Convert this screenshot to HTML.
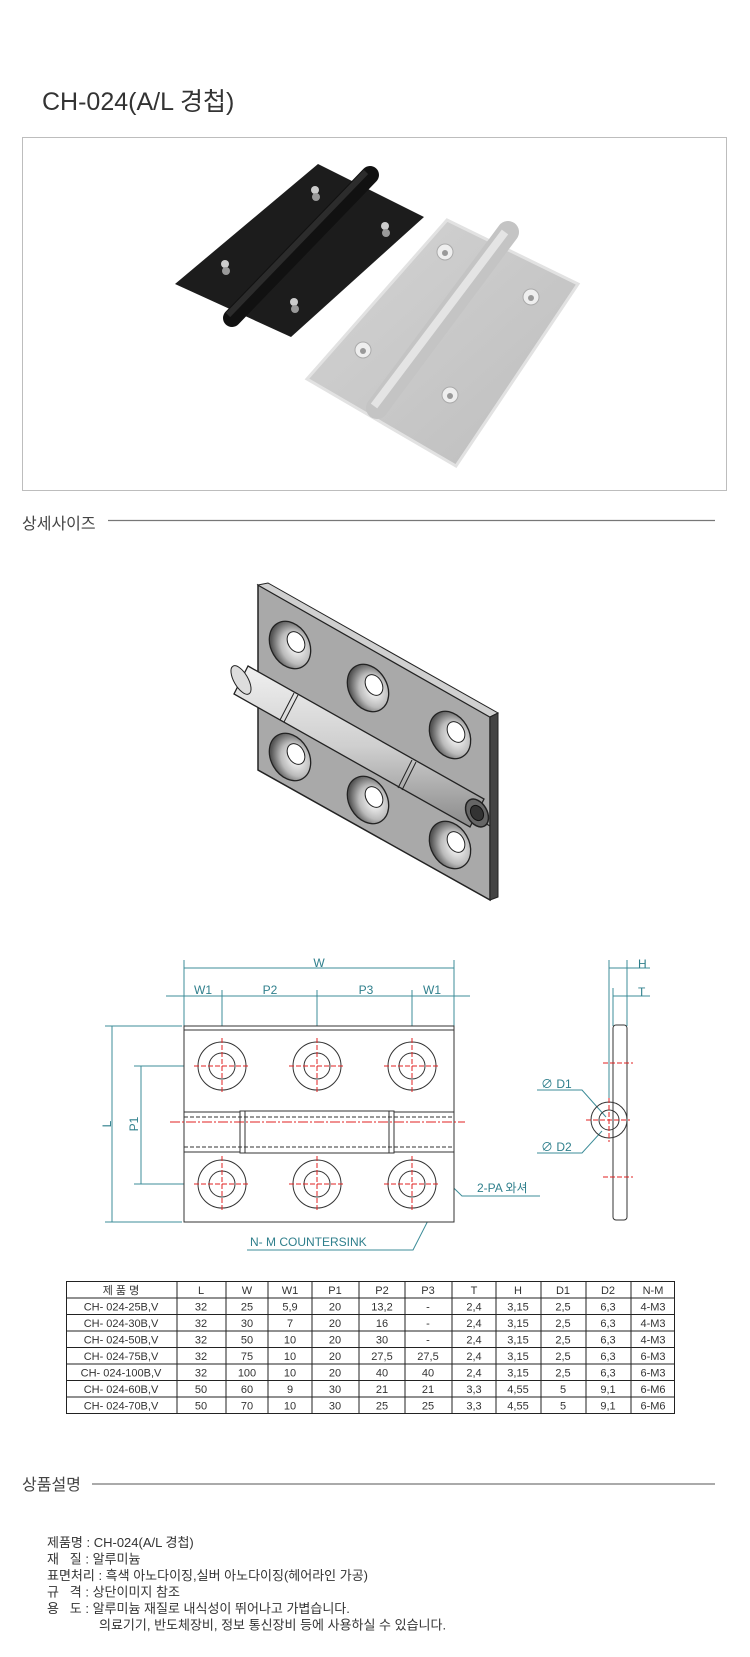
<!DOCTYPE html>
<html><head><meta charset="utf-8"><style>
html,body{margin:0;padding:0;background:#fff;width:750px;height:1657px;overflow:hidden}
svg{display:block}
text{font-family:"Liberation Sans","Noto Sans CJK KR",sans-serif}
</style></head><body>
<svg width="750" height="1657" viewBox="0 0 750 1657" xmlns="http://www.w3.org/2000/svg">
<defs>
<linearGradient id="sv" x1="0" y1="0" x2="1" y2="1"><stop offset="0" stop-color="#d4d4d4"/><stop offset="1" stop-color="#bdbdbd"/></linearGradient>
<linearGradient id="pin" x1="0" y1="0" x2="0" y2="1"><stop offset="0" stop-color="#f0f0f0"/><stop offset=".5" stop-color="#cfcfcf"/><stop offset="1" stop-color="#8a8a8a"/></linearGradient>
<radialGradient id="cs" cx=".6" cy=".6" r=".6"><stop offset="0" stop-color="#fff"/><stop offset=".6" stop-color="#bbb"/><stop offset="1" stop-color="#555"/></radialGradient>
</defs>
<text x="42" y="110" font-size="25" fill="#333">CH-024(A/L 경첩)</text>
<rect x="22.5" y="137.5" width="704" height="353" fill="#fff" stroke="#bdbdbd"/>
<!-- black hinge -->
<polygon points="175,284 318,164 424,217 291,337" fill="#1c1c1c"/>
<line x1="370" y1="175" x2="232" y2="318" stroke="#111" stroke-width="18" stroke-linecap="round"/>
<line x1="366" y1="172" x2="228" y2="315" stroke="#2c2c2c" stroke-width="6"/>
<g fill="#ccc"><circle cx="315" cy="190" r="4"/><circle cx="385" cy="226" r="4"/><circle cx="225" cy="264" r="4"/><circle cx="294" cy="302" r="4"/></g>
<g fill="#999"><circle cx="316" cy="197" r="4"/><circle cx="386" cy="233" r="4"/><circle cx="226" cy="271" r="4"/><circle cx="295" cy="309" r="4"/></g>
<!-- silver hinge -->
<polygon points="447,220 578,284 456,466 307,379" fill="url(#sv)" stroke="#e2e2e2" stroke-width="3"/>
<line x1="508" y1="232" x2="377" y2="408" stroke="#c4c4c4" stroke-width="22" stroke-linecap="round"/>
<line x1="505" y1="232" x2="374" y2="406" stroke="#e4e4e4" stroke-width="8"/>
<g fill="#eee" stroke="#aaa"><circle cx="445" cy="252" r="8"/><circle cx="531" cy="297" r="8"/><circle cx="363" cy="350" r="8"/><circle cx="450" cy="395" r="8"/></g>
<g fill="#999"><circle cx="445" cy="253" r="3"/><circle cx="531" cy="298" r="3"/><circle cx="363" cy="351" r="3"/><circle cx="450" cy="396" r="3"/></g>
<text x="22" y="529" font-size="16" fill="#444">상세사이즈</text>
<line x1="108" y1="520.5" x2="715" y2="520.5" stroke="#777" stroke-width="1.2"/>
<!-- 3D hinge -->
<polygon points="258,585 490,717 490,900 258,770" fill="#a9a9a9" stroke="#222" stroke-width="1.5"/>
<polygon points="258,585 268,583 498,713 490,717" fill="#d0d0d0" stroke="#222" stroke-width="1"/>
<polygon points="490,717 498,713 498,897 490,900" fill="#444" stroke="#222"/>
<line x1="258" y1="692" x2="490" y2="826" stroke="#222" stroke-width="1.2"/>
<g stroke="#222" stroke-width="1.3" fill="url(#cs)">
<ellipse cx="290" cy="645" rx="19" ry="25" transform="rotate(-30 290 645)"/>
<ellipse cx="368" cy="688" rx="19" ry="25" transform="rotate(-30 368 688)"/>
<ellipse cx="450" cy="735" rx="19" ry="25" transform="rotate(-30 450 735)"/>
<ellipse cx="290" cy="757" rx="19" ry="25" transform="rotate(-30 290 757)"/>
<ellipse cx="368" cy="800" rx="19" ry="25" transform="rotate(-30 368 800)"/>
<ellipse cx="450" cy="845" rx="19" ry="25" transform="rotate(-30 450 845)"/>
</g>
<g fill="#fff" stroke="#222"><ellipse cx="296" cy="642" rx="8" ry="11" transform="rotate(-30 296 642)"/><ellipse cx="374" cy="685" rx="8" ry="11" transform="rotate(-30 374 685)"/><ellipse cx="456" cy="732" rx="8" ry="11" transform="rotate(-30 456 732)"/><ellipse cx="296" cy="754" rx="8" ry="11" transform="rotate(-30 296 754)"/><ellipse cx="374" cy="797" rx="8" ry="11" transform="rotate(-30 374 797)"/><ellipse cx="456" cy="842" rx="8" ry="11" transform="rotate(-30 456 842)"/></g>
<polygon points="248,666 484,799 470,827 234,694" fill="url(#pin)" stroke="#222" stroke-width="1.3"/>
<ellipse cx="241" cy="680" rx="7" ry="16" transform="rotate(-30 241 680)" fill="#ddd" stroke="#222"/>
<line x1="294" y1="693" x2="280" y2="720" stroke="#222"/><line x1="298" y1="695" x2="284" y2="722" stroke="#222"/>
<line x1="412" y1="760" x2="398" y2="788" stroke="#222"/><line x1="416" y1="762" x2="402" y2="790" stroke="#222"/>
<ellipse cx="477" cy="813" rx="10" ry="15" transform="rotate(-30 477 813)" fill="#666" stroke="#222" stroke-width="1.5"/>
<ellipse cx="477" cy="813" rx="6" ry="8" transform="rotate(-30 477 813)" fill="#333" stroke="#111"/>
<!-- 2D drawing dims -->
<g stroke="#3c8c98" stroke-width="1" fill="none">
<line x1="184" y1="968" x2="454" y2="968"/>
<line x1="166" y1="996" x2="470" y2="996"/>
<line x1="184" y1="960" x2="184" y2="1026"/><line x1="454" y1="960" x2="454" y2="1026"/>
<line x1="222" y1="990" x2="222" y2="1040"/><line x1="317" y1="990" x2="317" y2="1040"/><line x1="412" y1="990" x2="412" y2="1040"/>
<line x1="105" y1="1026" x2="182" y2="1026"/><line x1="105" y1="1222" x2="182" y2="1222"/>
<line x1="112" y1="1026" x2="112" y2="1222"/>
<line x1="134" y1="1066" x2="195" y2="1066"/><line x1="134" y1="1184" x2="195" y2="1184"/>
<line x1="141" y1="1066" x2="141" y2="1184"/>
<line x1="609" y1="960" x2="609" y2="1102"/><line x1="627" y1="960" x2="627" y2="1026"/><line x1="613" y1="988" x2="613" y2="1026"/>
<line x1="609" y1="968" x2="650" y2="968"/>
<line x1="613" y1="996" x2="650" y2="996"/>
<polyline points="537,1090 582,1090 606,1117"/>
<polyline points="537,1153 582,1153 602,1131"/>
<polyline points="391,1127 462,1196 540,1196"/>
<polyline points="247,1250 413,1250 436,1205"/>
</g>
<g fill="#2f7f8c" font-size="12">
<text x="319" y="967" text-anchor="middle">W</text>
<text x="203" y="994" text-anchor="middle">W1</text><text x="270" y="994" text-anchor="middle">P2</text>
<text x="366" y="994" text-anchor="middle">P3</text><text x="432" y="994" text-anchor="middle">W1</text>
<text x="638" y="968">H</text><text x="638" y="996">T</text>
<text x="541" y="1088">∅ D1</text><text x="541" y="1151">∅ D2</text>
<text x="477" y="1192">2-PA 와셔</text>
<text x="250" y="1246">N- M COUNTERSINK</text>
<text transform="translate(111,1124) rotate(-90)" text-anchor="middle">L</text>
<text transform="translate(138,1124) rotate(-90)" text-anchor="middle">P1</text>
</g>
<g stroke="#333" stroke-width="1" fill="#fff">
<rect x="184" y="1026" width="270" height="86"/>
<line x1="184" y1="1030" x2="454" y2="1030"/>
<rect x="184" y="1152" width="270" height="70"/>
<rect x="184" y="1112" width="270" height="40"/>
<rect x="240" y="1111" width="154" height="42"/>
<line x1="245" y1="1111" x2="245" y2="1153"/><line x1="389" y1="1111" x2="389" y2="1153"/>
</g>
<g stroke="#333" stroke-dasharray="4,2" fill="none"><line x1="184" y1="1117" x2="454" y2="1117"/><line x1="184" y1="1147" x2="454" y2="1147"/></g>
<g stroke="#333" fill="none">
<circle cx="222" cy="1066" r="24"/><circle cx="222" cy="1066" r="13"/>
<circle cx="317" cy="1066" r="24"/><circle cx="317" cy="1066" r="13"/>
<circle cx="412" cy="1066" r="24"/><circle cx="412" cy="1066" r="13"/>
<circle cx="222" cy="1184" r="24"/><circle cx="222" cy="1184" r="13"/>
<circle cx="317" cy="1184" r="24"/><circle cx="317" cy="1184" r="13"/>
<circle cx="412" cy="1184" r="24"/><circle cx="412" cy="1184" r="13"/>
<rect x="613" y="1025" width="14" height="195" rx="3"/>
<circle cx="609" cy="1120" r="18"/><circle cx="609" cy="1120" r="10"/>
</g>
<g stroke="#e02020" stroke-dasharray="5,2" fill="none">
<path d="M194 1066h56M222 1038v56M289 1066h56M317 1038v56M384 1066h56M412 1038v56M194 1184h56M222 1156v56M289 1184h56M317 1156v56M384 1184h56M412 1156v56"/>
<path d="M170 1122h295" stroke-dasharray="10,2,2,2"/>
<path d="M603 1063h30M603 1177h30M586 1120h44M609 1098v44"/>
</g>
<!-- table -->
<g transform="translate(0,-4)">
<g stroke="#222" stroke-width="1" fill="none">
<rect x="66.5" y="1285.5" width="608" height="132"/>
<path d="M66 1302h609M66 1318.5h609M66 1335h609M66 1351.5h609M66 1368h609M66 1384.5h609M66 1401h609"/>
<path d="M177 1285v132M226 1285v132M268 1285v132M312 1285v132M359 1285v132M405 1285v132M452 1285v132M496 1285v132M541 1285v132M586 1285v132M631 1285v132"/>
</g>
<g font-size="11" fill="#333" text-anchor="middle">
<g transform="translate(0,1298)"><text x="121">제 품 명</text><text x="201">L</text><text x="247">W</text><text x="290">W1</text><text x="335">P1</text><text x="382">P2</text><text x="428">P3</text><text x="474">T</text><text x="518">H</text><text x="563">D1</text><text x="608">D2</text><text x="653">N-M</text></g>
<g transform="translate(0,1314.5)"><text x="121">CH- 024-25B,V</text><text x="201">32</text><text x="247">25</text><text x="290">5,9</text><text x="335">20</text><text x="382">13,2</text><text x="428">-</text><text x="474">2,4</text><text x="518">3,15</text><text x="563">2,5</text><text x="608">6,3</text><text x="653">4-M3</text></g>
<g transform="translate(0,1331)"><text x="121">CH- 024-30B,V</text><text x="201">32</text><text x="247">30</text><text x="290">7</text><text x="335">20</text><text x="382">16</text><text x="428">-</text><text x="474">2,4</text><text x="518">3,15</text><text x="563">2,5</text><text x="608">6,3</text><text x="653">4-M3</text></g>
<g transform="translate(0,1347.5)"><text x="121">CH- 024-50B,V</text><text x="201">32</text><text x="247">50</text><text x="290">10</text><text x="335">20</text><text x="382">30</text><text x="428">-</text><text x="474">2,4</text><text x="518">3,15</text><text x="563">2,5</text><text x="608">6,3</text><text x="653">4-M3</text></g>
<g transform="translate(0,1364)"><text x="121">CH- 024-75B,V</text><text x="201">32</text><text x="247">75</text><text x="290">10</text><text x="335">20</text><text x="382">27,5</text><text x="428">27,5</text><text x="474">2,4</text><text x="518">3,15</text><text x="563">2,5</text><text x="608">6,3</text><text x="653">6-M3</text></g>
<g transform="translate(0,1380.5)"><text x="121">CH- 024-100B,V</text><text x="201">32</text><text x="247">100</text><text x="290">10</text><text x="335">20</text><text x="382">40</text><text x="428">40</text><text x="474">2,4</text><text x="518">3,15</text><text x="563">2,5</text><text x="608">6,3</text><text x="653">6-M3</text></g>
<g transform="translate(0,1397)"><text x="121">CH- 024-60B,V</text><text x="201">50</text><text x="247">60</text><text x="290">9</text><text x="335">30</text><text x="382">21</text><text x="428">21</text><text x="474">3,3</text><text x="518">4,55</text><text x="563">5</text><text x="608">9,1</text><text x="653">6-M6</text></g>
<g transform="translate(0,1413.5)"><text x="121">CH- 024-70B,V</text><text x="201">50</text><text x="247">70</text><text x="290">10</text><text x="335">30</text><text x="382">25</text><text x="428">25</text><text x="474">3,3</text><text x="518">4,55</text><text x="563">5</text><text x="608">9,1</text><text x="653">6-M6</text></g>
</g>
</g>
<text x="22" y="1490" font-size="16" fill="#444">상품설명</text>
<line x1="92" y1="1484" x2="715" y2="1484" stroke="#aaa" stroke-width="2"/>
<g font-size="13" fill="#333">
<text x="47" y="1547">제품명 : CH-024(A/L 경첩)</text>
<text x="47" y="1563.5">재 &#160;&#160;질 : 알루미늄</text>
<text x="47" y="1580">표면처리 : 흑색 아노다이징,실버 아노다이징(헤어라인 가공)</text>
<text x="47" y="1596.5">규 &#160;&#160;격 : 상단이미지 참조</text>
<text x="47" y="1613">용 &#160;&#160;도 : 알루미늄 재질로 내식성이 뛰어나고 가볍습니다.</text>
<text x="99" y="1629.5">의료기기, 반도체장비, 정보 통신장비 등에 사용하실 수 있습니다.</text>
</g>
</svg>
</body></html>
